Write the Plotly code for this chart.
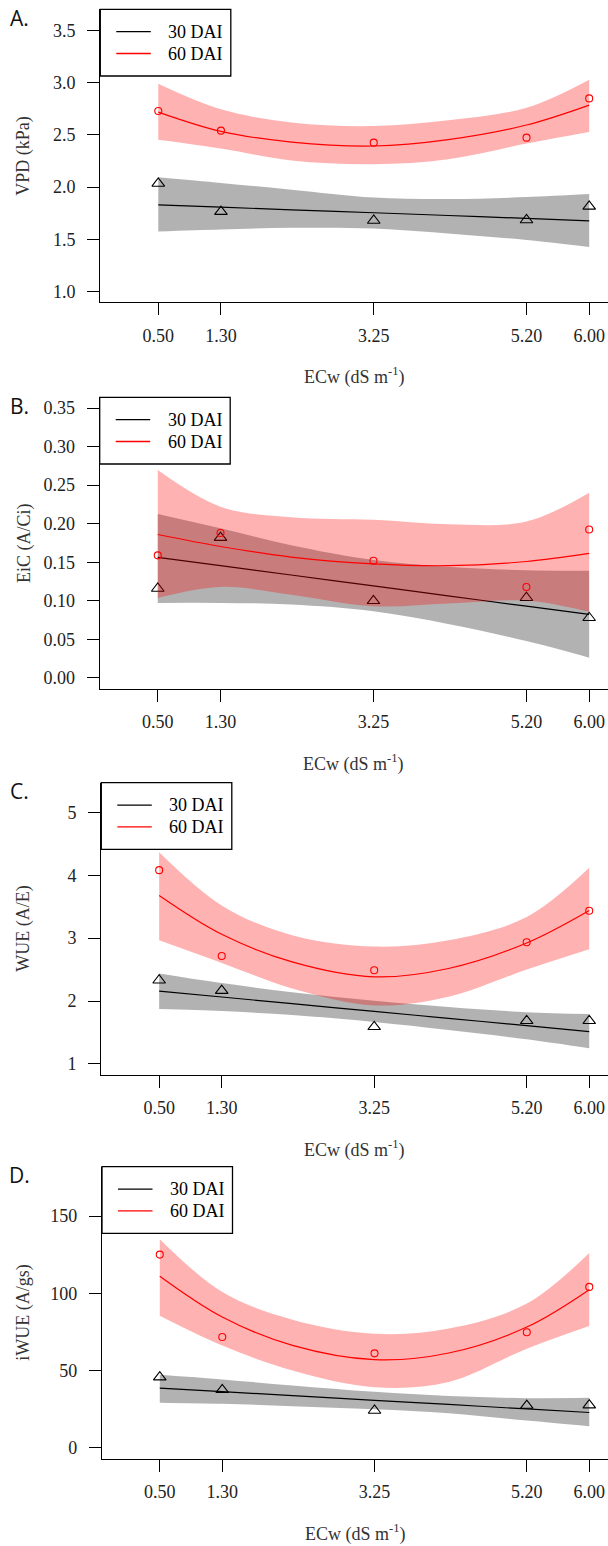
import plotly.graph_objects as go

# x categories (ECw, dS m-1) and the grid where the fitted curves were read
ECW = [0.50, 1.30, 3.25, 5.20, 6.00]
ECW_LABELS = ["0.50", "1.30", "3.25", "5.20", "6.00"]
FIT_ECW = [0.50, 1.30, 2.20, 3.25, 4.20, 5.20, 6.00]

# A. VPD (kPa)
vpd_30 = [2.035, 1.765, 1.68, 1.685, 1.815]
vpd_60 = [2.729, 2.541, 2.426, 2.474, 2.850]
vpd_30_fit = [1.830, 1.808, 1.782, 1.754, 1.728, 1.700, 1.677]
vpd_30_lo = [1.575, 1.594, 1.610, 1.604, 1.556, 1.492, 1.425]
vpd_30_hi = [2.095, 2.040, 1.975, 1.900, 1.885, 1.905, 1.933]
vpd_60_fit = [2.719, 2.534, 2.432, 2.394, 2.455, 2.595, 2.786]
vpd_60_lo = [2.455, 2.370, 2.255, 2.219, 2.267, 2.417, 2.528]
vpd_60_hi = [2.990, 2.745, 2.620, 2.585, 2.640, 2.761, 3.030]

# B. EiC (A/Ci)
eic_30 = [0.116, 0.182, 0.100, 0.104, 0.078]
eic_60 = [0.159, 0.188, 0.152, 0.118, 0.1925]
eic_30_fit = [0.1563, 0.1456, 0.1335, 0.1193, 0.1064, 0.0930, 0.0823]
eic_30_lo = [0.0973, 0.0973, 0.0952, 0.0865, 0.0700, 0.0478, 0.0263]
eic_30_hi = [0.2127, 0.1940, 0.1722, 0.1530, 0.1443, 0.1395, 0.1390]
eic_60_fit = [0.1860, 0.1705, 0.1568, 0.1480, 0.1456, 0.1510, 0.1615]
eic_60_lo = [0.1038, 0.1180, 0.1080, 0.0930, 0.0965, 0.1003, 0.0857]
eic_60_hi = [0.2696, 0.2220, 0.2084, 0.2050, 0.1994, 0.2028, 0.2403]

# C. WUE (A/E)
wue_30 = [2.33, 2.165, 1.59, 1.685, 1.685]
wue_60 = [4.081, 2.717, 2.49, 2.934, 3.436]
wue_30_fit = [2.157, 2.064, 1.958, 1.835, 1.724, 1.608, 1.513]
wue_30_lo = [1.872, 1.840, 1.777, 1.668, 1.540, 1.391, 1.248]
wue_30_hi = [2.437, 2.285, 2.140, 2.005, 1.905, 1.822, 1.793]
wue_60_fit = [3.679, 3.061, 2.622, 2.384, 2.517, 2.923, 3.440]
wue_60_lo = [2.966, 2.606, 2.200, 1.930, 2.067, 2.500, 2.823]
wue_60_hi = [4.366, 3.520, 3.045, 2.865, 2.966, 3.336, 4.118]

# D. iWUE (A/gs)
iwue_30 = [45.8, 37.6, 24.2, 27.4, 27.7]
iwue_60 = [125.1, 71.8, 61.2, 74.8, 104.2]
iwue_30_fit = [38.7, 36.4, 33.8, 30.8, 28.1, 25.2, 22.9]
iwue_30_lo = [29.2, 28.5, 27.0, 25.0, 22.4, 17.7, 14.0]
iwue_30_hi = [47.3, 44.3, 40.4, 36.3, 33.6, 32.2, 32.4]
iwue_60_fit = [111.1, 84.7, 66.3, 57.1, 61.4, 78.2, 102.4]
iwue_60_lo = [85.6, 66.3, 50.1, 39.3, 42.6, 64.2, 78.9]
iwue_60_hi = [135.1, 100.9, 83.0, 73.9, 77.2, 93.4, 126.2]

# y tick labels
vpd_ticks = [1.0, 1.5, 2.0, 2.5, 3.0, 3.5]
vpd_ticktext = ["1.0", "1.5", "2.0", "2.5", "3.0", "3.5"]
eic_ticks = [0.0, 0.05, 0.10, 0.15, 0.20, 0.25, 0.30, 0.35]
eic_ticktext = ["0.00", "0.05", "0.10", "0.15", "0.20", "0.25", "0.30", "0.35"]
wue_ticks = [1, 2, 3, 4, 5]
wue_ticktext = ["1", "2", "3", "4", "5"]
iwue_ticks = [0, 50, 100, 150]
iwue_ticktext = ["0", "50", "100", "150"]

SERIES_NAMES = ["30 DAI", "60 DAI"]
SERIES_COLORS = ["#000000", "#ff0000"]

W, H = 608, 1546
SERIF = "Liberation Serif"

# panel geometry in pixels: left axis line, top and bottom of plot region
panels = [
    dict(letter="A.", title="VPD (kPa)", yr=[0.896, 3.704], tv=vpd_ticks, tt=vpd_ticktext,
         left=100.3, top=9.3, bottom=302.3,
         d30=vpd_30, d60=vpd_60, f30=vpd_30_fit, l30=vpd_30_lo, h30=vpd_30_hi,
         f60=vpd_60_fit, l60=vpd_60_lo, h60=vpd_60_hi),
    dict(letter="B.", title="EiC (A/Ci)", yr=[-0.014, 0.364], tv=eic_ticks, tt=eic_ticktext,
         left=99.7, top=397.3, bottom=688.7,
         d30=eic_30, d60=eic_60, f30=eic_30_fit, l30=eic_30_lo, h30=eic_30_hi,
         f60=eic_60_fit, l60=eic_60_lo, h60=eic_60_hi),
    dict(letter="C.", title="WUE (A/E)", yr=[0.828, 5.472], tv=wue_ticks, tt=wue_ticktext,
         left=101.3, top=782.7, bottom=1074.7,
         d30=wue_30, d60=wue_60, f30=wue_30_fit, l30=wue_30_lo, h30=wue_30_hi,
         f60=wue_60_fit, l60=wue_60_lo, h60=wue_60_hi),
    dict(letter="D.", title="iWUE (A/gs)", yr=[-7, 182], tv=iwue_ticks, tt=iwue_ticktext,
         left=102.0, top=1166.7, bottom=1458.7,
         d30=iwue_30, d60=iwue_60, f30=iwue_30_fit, l30=iwue_30_lo, h30=iwue_30_hi,
         f60=iwue_60_fit, l60=iwue_60_lo, h60=iwue_60_hi),
]


def px_x(px):
    return px / W


def px_y(py):
    return 1 - py / H


fig = go.Figure()
shapes = []
annotations = []
layout_axes = {}

for i, p in enumerate(panels, start=1):
    xa = "x" if i == 1 else f"x{i}"
    ya = "y" if i == 1 else f"y{i}"
    common = dict(xaxis=xa, yaxis=ya, hoverinfo="skip", showlegend=False)

    # 30 DAI band, fit, points
    fig.add_trace(go.Scatter(x=FIT_ECW, y=p["l30"], mode="lines",
                             line=dict(width=0, shape="spline"), **common))
    fig.add_trace(go.Scatter(x=FIT_ECW, y=p["h30"], mode="lines", fill="tonexty",
                             fillcolor="rgba(0,0,0,0.3)",
                             line=dict(width=0, shape="spline"), **common))
    fig.add_trace(go.Scatter(x=FIT_ECW, y=p["f30"], mode="lines",
                             line=dict(color=SERIES_COLORS[0], width=1.2, shape="spline"), **common))
    fig.add_trace(go.Scatter(x=ECW, y=p["d30"], mode="markers",
                             marker=dict(symbol="triangle-up-open", size=11, color=SERIES_COLORS[0],
                                         line=dict(width=1.1)), **common))
    # 60 DAI band, fit, points
    fig.add_trace(go.Scatter(x=FIT_ECW, y=p["l60"], mode="lines",
                             line=dict(width=0, shape="spline"), **common))
    fig.add_trace(go.Scatter(x=FIT_ECW, y=p["h60"], mode="lines", fill="tonexty",
                             fillcolor="rgba(255,0,0,0.3)",
                             line=dict(width=0, shape="spline"), **common))
    fig.add_trace(go.Scatter(x=FIT_ECW, y=p["f60"], mode="lines",
                             line=dict(color=SERIES_COLORS[1], width=1.2, shape="spline"), **common))
    fig.add_trace(go.Scatter(x=ECW, y=p["d60"], mode="markers",
                             marker=dict(symbol="circle-open", size=7, color=SERIES_COLORS[1],
                                         line=dict(width=1.1)), **common))

    tickfont = dict(family=SERIF, size=18, color="#222")
    layout_axes["xaxis" if i == 1 else f"xaxis{i}"] = dict(
        domain=[px_x(p["left"]), 1], range=[-0.24, 6.24], anchor=ya,
        tickvals=ECW, ticktext=ECW_LABELS, ticks="outside", ticklen=12,
        tickwidth=1, tickcolor="black", ticklabelstandoff=5,
        showline=True, linecolor="black", linewidth=1.3,
        showgrid=False, zeroline=False, tickfont=tickfont, fixedrange=True)
    layout_axes["yaxis" if i == 1 else f"yaxis{i}"] = dict(
        domain=[px_y(p["bottom"]), px_y(p["top"])], range=p["yr"], anchor=xa,
        tickvals=p["tv"], ticktext=p["tt"], ticks="outside", ticklen=12,
        tickwidth=1, tickcolor="black", ticklabelstandoff=8,
        showline=True, linecolor="black", linewidth=1.3,
        showgrid=False, zeroline=False, tickfont=tickfont, fixedrange=True)

    # panel letter
    annotations.append(dict(text=p["letter"], xref="paper", yref="paper",
                            x=px_x(19), y=px_y(p["top"] + 8.5), showarrow=False,
                            xanchor="center", yanchor="middle",
                            font=dict(family="Open Sans", size=21, color="#111")))
    # axis titles
    annotations.append(dict(text=p["title"], xref="paper", yref="paper",
                            x=px_x(24), y=px_y((p["top"] + p["bottom"]) / 2),
                            textangle=-90, showarrow=False,
                            xanchor="center", yanchor="middle",
                            font=dict(family=SERIF, size=18, color="#333")))
    annotations.append(dict(text="ECw (dS m<sup>-1</sup>)", xref="paper", yref="paper",
                            x=px_x((p["left"] + W) / 2), y=px_y(p["bottom"] + 74),
                            showarrow=False, xanchor="center", yanchor="middle",
                            font=dict(family=SERIF, size=18, color="#333")))

    # legend box drawn at the top-left corner of the plot region
    L, T = p["left"], p["top"]
    shapes.append(dict(type="rect", xref="paper", yref="paper",
                       x0=px_x(L), x1=px_x(L + 130.5), y0=px_y(T), y1=px_y(T + 66.7),
                       line=dict(color="black", width=1.3), fillcolor="white", layer="above"))
    for k, (name, col) in enumerate(zip(SERIES_NAMES, SERIES_COLORS)):
        yy = T + 22.4 + k * 21.8
        shapes.append(dict(type="line", xref="paper", yref="paper",
                           x0=px_x(L + 16), x1=px_x(L + 50.5), y0=px_y(yy), y1=px_y(yy),
                           line=dict(color=col, width=1.3), layer="above"))
        annotations.append(dict(text=name, xref="paper", yref="paper",
                                x=px_x(L + 66), y=px_y(yy), showarrow=False,
                                xanchor="left", yanchor="middle",
                                font=dict(family=SERIF, size=18, color="black")))

fig.update_layout(
    width=W, height=H,
    margin=dict(l=0, r=0, t=0, b=0),
    paper_bgcolor="white", plot_bgcolor="white",
    showlegend=False,
    shapes=shapes, annotations=annotations,
    **layout_axes,
)

fig.write_html("out.html", config={"displayModeBar": False},
               post_script="document.body.style.margin='0';document.body.style.overflow='hidden';")
